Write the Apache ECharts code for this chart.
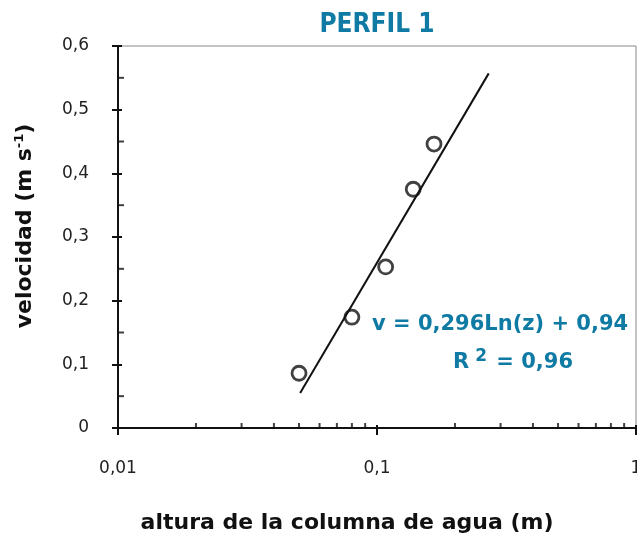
<!DOCTYPE html>
<html>
<head>
<meta charset="utf-8">
<script src="https://cdn.jsdelivr.net/npm/echarts@6/dist/echarts.min.js"></script>
<style>html,body{margin:0;padding:0;background:#fff}#c{width:637px;height:538px}</style>
</head>
<body>
<div id="c"></div>
<script>
// Data
var pointX = [0.050, 0.080, 0.108, 0.138, 0.166];
var pointY = [0.086, 0.174, 0.253, 0.375, 0.446];
var trendX = [0.0505, 0.270];
var trendY = [0.055, 0.557];
var xMinorTickValues = [0.02,0.03,0.04,0.05,0.06,0.07,0.08,0.09,0.2,0.3,0.4,0.5,0.6,0.7,0.8,0.9];
var yMinorTickValues = [0.05, 0.15, 0.25, 0.35, 0.45, 0.55];
var titleText = 'PERFIL 1';
var xTitle = 'altura de la columna de agua (m)';
var eqLine1 = 'v = 0,296Ln(z) + 0,94';

var teal = '#0f7aa3';
var labelFont = '"DejaVu Sans", sans-serif';
var fmt = function (v) { return String(+v.toFixed(2)).replace('.', ','); };

var chart = echarts.init(document.getElementById('c'));
var axisLine = { show: true, lineStyle: { color: '#111', width: 2 } };
chart.setOption({
  animation: false,
  grid: { left: 118, right: 1, top: 46, bottom: 110, show: true, borderColor: '#888', borderWidth: 1,
          containLabel: false, outerBoundsMode: 'none' },
  title: {
    text: titleText, left: 372, top: 7, textAlign: 'center',
    textStyle: { color: teal, fontSize: 26, fontWeight: 'bold', fontFamily: '"DejaVu Sans Condensed", "Liberation Sans Narrow", "DejaVu Sans", sans-serif' }
  },
  xAxis: [{
    type: 'log', logBase: 10, min: 0.01, max: 1,
    axisLine: axisLine,
    axisTick: { show: true, inside: false, length: 7, lineStyle: { color: '#111', width: 2 } },
    axisLabel: { formatter: fmt, margin: 32, fontSize: 17, color: '#222', fontFamily: labelFont },
    splitLine: { show: false }
  }, {
    type: 'log', logBase: 10, min: 0.01, max: 1, position: 'bottom',
    axisLine: { show: false },
    axisTick: { show: true, inside: true, length: 3, lineStyle: { color: '#111', width: 2 } },
    axisLabel: { show: false }, splitLine: { show: false }
  }],
  yAxis: [{
    type: 'value', min: 0, max: 0.6, interval: 0.1,
    axisLine: axisLine,
    axisTick: { show: true, inside: false, length: 6, lineStyle: { color: '#111', width: 2 } },
    axisLabel: { formatter: fmt, margin: 29, fontSize: 17, color: '#222', fontFamily: labelFont },
    splitLine: { show: false }
  }, {
    type: 'value', min: 0, max: 0.6, interval: 0.1, position: 'left',
    axisLine: { show: false },
    axisTick: { show: true, inside: true, length: 4, lineStyle: { color: '#111', width: 2 } },
    axisLabel: { show: false }, splitLine: { show: false }
  }],
  series: [{
    type: 'scatter', xAxisIndex: 0, yAxisIndex: 0, clip: false, silent: true,
    symbol: 'rect', symbolSize: [2, 5], symbolOffset: [0, -2.5],
    itemStyle: { color: '#111' },
    data: xMinorTickValues.map(function (v) { return [v, 0]; })
  }, {
    type: 'scatter', xAxisIndex: 0, yAxisIndex: 0, clip: false, silent: true,
    symbol: 'rect', symbolSize: [5, 2], symbolOffset: [3.5, 0],
    itemStyle: { color: '#111' },
    data: yMinorTickValues.map(function (v) { return [0.01, v]; })
  }, {
    type: 'line', xAxisIndex: 0, yAxisIndex: 0, symbol: 'none', silent: true,
    lineStyle: { color: '#111', width: 2 },
    data: trendX.map(function (x, i) { return [x, trendY[i]]; })
  }, {
    type: 'scatter', xAxisIndex: 0, yAxisIndex: 0, symbol: 'circle', symbolSize: 14,
    itemStyle: { color: '#fff', borderColor: '#111', borderWidth: 2.8 },
    data: pointX.map(function (x, i) { return [x, pointY[i]]; })
  }],
  graphic: [{
    type: 'text', x: 347, y: 523,
    style: { text: xTitle, fill: '#111', align: 'center', verticalAlign: 'middle',
             font: 'bold 22px "DejaVu Sans", sans-serif' }
  }, {
    type: 'text', x: 25, y: 226, rotation: Math.PI / 2,
    style: {
      text: '{b|velocidad (m s}{s|-1}{b|)}', align: 'center', verticalAlign: 'middle',
      rich: {
        b: { fontSize: 22, fontWeight: 'bold', fill: '#111', fontFamily: labelFont },
        s: { fontSize: 13, fontWeight: 'bold', fill: '#111', fontFamily: labelFont, verticalAlign: 'top', padding: [0, 0, 10, 0] }
      }
    }
  }, {
    type: 'text', x: 372, y: 325,
    style: { text: eqLine1, fill: teal, verticalAlign: 'middle', font: 'bold 21px "DejaVu Sans", sans-serif' }
  }, {
    type: 'text', x: 573, y: 363,
    style: {
      text: '{a|R}{s|2}{a| = 0,96}', align: 'right', verticalAlign: 'middle',
      rich: {
        a: { fill: teal, fontSize: 21, fontWeight: 'bold', fontFamily: labelFont },
        s: { fill: teal, fontSize: 17, fontWeight: 'bold', fontFamily: labelFont, verticalAlign: 'top', padding: [0, 2, 12, 6] }
      }
    }
  }]
});
</script>
</body>
</html>
